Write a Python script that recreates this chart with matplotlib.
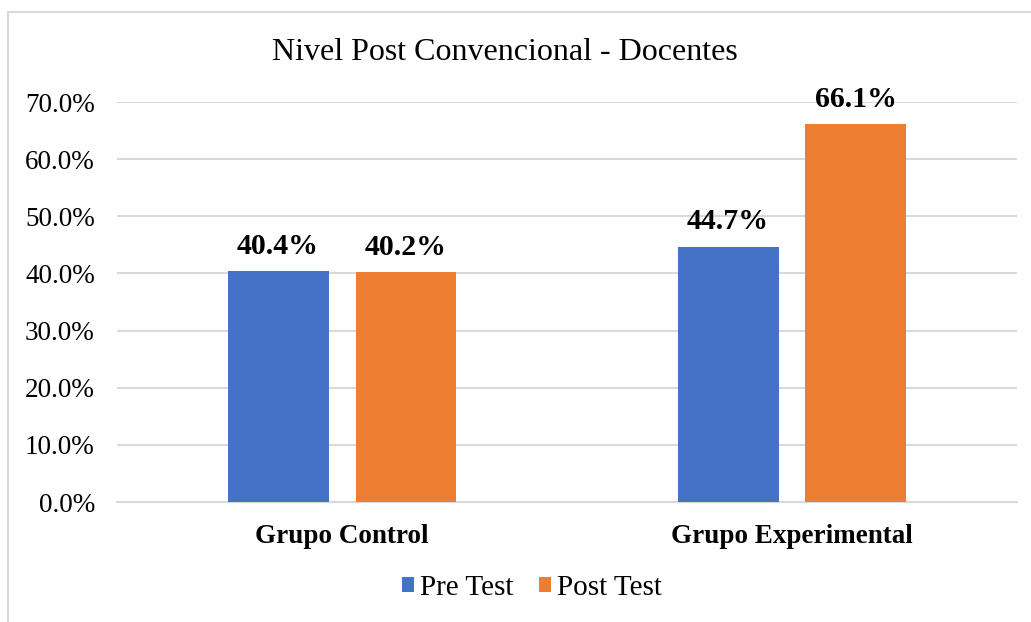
import matplotlib
matplotlib.use("Agg")
import matplotlib.pyplot as plt
from matplotlib.patches import Rectangle
import numpy as np

categories = ["Grupo Control", "Grupo Experimental"]
series_names = ["Pre Test", "Post Test"]
pre_test = [40.4, 44.7]
post_test = [40.2, 66.1]
yticks = [0, 10, 20, 30, 40, 50, 60, 70]
title = "Nivel Post Convencional - Docentes"

colors = ["#4472C4", "#ED7D31"]
W, H = 1031, 622
fig = plt.figure(figsize=(W / 100, H / 100), dpi=100)
font = "Liberation Serif"

# outer chart border
fig.patches.append(Rectangle((8 / W, -0.1), 1.2, (H - 12) / H + 0.1,
                             transform=fig.transFigure, fill=False,
                             edgecolor="#d9d9d9", linewidth=1.5))

ax = fig.add_axes([117 / W, 120 / H, 900 / W, 400 / H])
x = np.arange(len(categories))
bw = 0.2244
gap = 0.06
off = (bw + gap) / 2
for vals, name, c, sgn in [(pre_test, series_names[0], colors[0], -1),
                           (post_test, series_names[1], colors[1], 1)]:
    bars = ax.bar(x + sgn * off, vals, width=bw, color=c, label=name, zorder=3)
    for b, v in zip(bars, vals):
        ax.annotate(f"{v:.1f}%", (b.get_x() + b.get_width() / 2, v),
                    xytext=(0, 8), textcoords="offset points",
                    ha="center", va="bottom", fontsize=21.5,
                    fontweight="bold", family=font)

ax.set_xlim(-0.5, 1.5)
ax.set_ylim(0, 70)
ax.set_yticks(yticks)
ax.set_yticklabels([f"{t:.1f}%" for t in yticks], family=font, fontsize=19.5)
ax.set_xticks(x)
ax.set_xticklabels(categories, family=font, fontsize=19.5, fontweight="bold")
ax.tick_params(axis="y", length=0, pad=16)
ax.tick_params(axis="x", length=0, pad=16)
ax.grid(axis="y", color="#d9d9d9", linewidth=1.5, zorder=0)
for s in ["top", "right", "left"]:
    ax.spines[s].set_visible(False)
ax.spines["bottom"].set_color("#d9d9d9")
ax.spines["bottom"].set_linewidth(1.5)

fig.text(505 / W, 1 - 53 / H, title, ha="center", va="center",
         family=font, fontsize=23)

leg = fig.legend(loc="center", bbox_to_anchor=(532 / W, 1 - 588 / H),
                 ncol=2, frameon=False, prop={"family": font, "size": 21},
                 handlelength=0.4, handleheight=0.4, handletextpad=0.2,
                 columnspacing=0.9)

fig.savefig("out.png", dpi=100)
